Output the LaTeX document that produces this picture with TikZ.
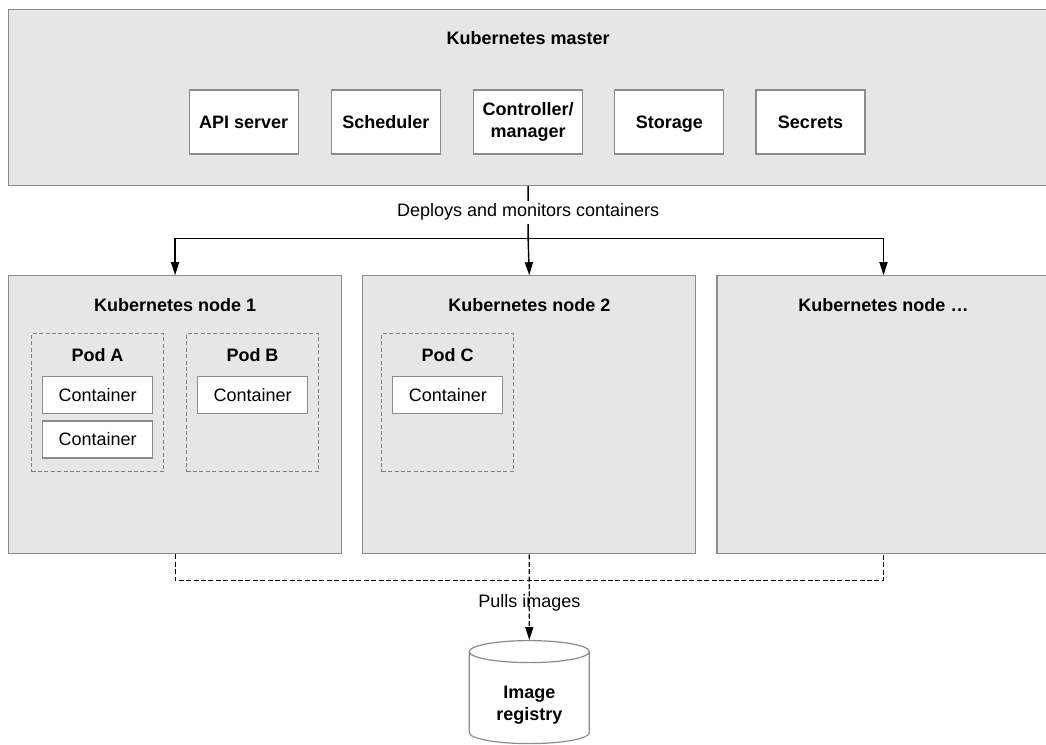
\documentclass[tikz,border=0pt]{standalone}
\usepackage{fontspec}
\setmainfont{Liberation Sans}
\usetikzlibrary{arrows.meta,positioning,shapes.geometric}
\definecolor{KubeFill}{HTML}{E6E6E6}
\definecolor{KubeEdge}{HTML}{8C8C8C}
\definecolor{KubeDash}{HTML}{7F7F7F}
\tikzset{
  masterbox/.style={draw=KubeEdge, fill=KubeFill, line width=0.6pt, inner sep=0pt,
    minimum width=519.5pt, minimum height=88pt},
  cluster/.style={draw=KubeEdge, fill=KubeFill, line width=0.6pt, inner sep=0pt,
    minimum width=166.5pt, minimum height=139pt},
  component/.style={draw=KubeEdge, fill=white, line width=0.6pt, inner sep=1pt,
    align=center, font=\bfseries, minimum width=54.5pt, minimum height=32pt},
  onerow/.style={text height=0.95em, text depth=0.23em},
  pod/.style={draw=KubeDash, line width=0.5pt, dash pattern=on 2pt off 1.2pt,
    inner sep=0pt, minimum width=66pt, minimum height=69pt},
  container/.style={draw=KubeEdge, fill=white, line width=0.6pt, inner sep=0pt,
    minimum width=55pt, minimum height=18.5pt, onerow},
  boxtitle/.style={font=\bfseries, inner sep=0pt},
  store/.style={cylinder, shape border rotate=90, aspect=0.275, text width=40pt,
    draw=KubeEdge, fill=white, line width=0.6pt, inner sep=0pt,
    minimum width=60pt, minimum height=51.5pt},
  feedwire/.style={draw=black, line width=0.7pt, -{Triangle[length=6.5pt, width=4pt]}},
  pullwire/.style={draw=black, line width=0.6pt, dash pattern=on 2.5pt off 1.2pt},
  labelbox/.style={fill=white, inner sep=1.5pt}
}

\begin{document}
\fontsize{9}{11}\selectfont
\begin{tikzpicture}[node distance=10pt and 16pt]
  \useasboundingbox (0,0) rectangle (523pt,-372.5pt);
  % master
  \node[masterbox, anchor=north west] (master) at (4pt,-4.5pt) {};
  \node[boxtitle] (mastertitle) at ([yshift=-14.5pt]master.north) {Kubernetes master};
  \node[component] (ctrl) at ([yshift=-56.5pt]master.north) {Controller/\\manager};
  \node[component, onerow, left=of ctrl] (sched) {Scheduler};
  \node[component, onerow, left=of sched] (api) {API server};
  \node[component, onerow, right=15.5pt of ctrl] (storage) {Storage};
  \node[component, onerow, right=15.5pt of storage] (secrets) {Secrets};

  % worker nodes
  \node[cluster, below right=44.5pt and 0pt of master.south west] (node1) {};
  \node[cluster, right=10pt of node1] (node2) {};
  \node[cluster, right=10pt of node2] (node3) {};
  \node[boxtitle] (node1title) at ([yshift=-14.75pt]node1.north) {Kubernetes node 1};
  \node[boxtitle] (node2title) at ([yshift=-14.75pt]node2.north) {Kubernetes node 2};
  \node[boxtitle] (node3title) at ([yshift=-14.75pt]node3.north) {Kubernetes node …};

  % pods
  \node[pod, below right=29pt and 11.5pt of node1.north west] (podA) {};
  \node[pod, right=11pt of podA] (podB) {};
  \node[pod, below right=29pt and 9.5pt of node2.north west] (podC) {};
  \node[boxtitle] (podAtitle) at ([yshift=-11pt]podA.north) {Pod A};
  \node[boxtitle] (podBtitle) at ([yshift=-11pt]podB.north) {Pod B};
  \node[boxtitle] (podCtitle) at ([yshift=-11pt]podC.north) {Pod C};
  \node[container, below right=21.5pt and 5.5pt of podA.north west] (contA1) {Container};
  \node[container, below=3pt of contA1] (contA2) {Container};
  \node[container, below right=21.5pt and 5.5pt of podB.north west] (contB1) {Container};
  \node[container, below right=21.5pt and 5.5pt of podC.north west] (contC1) {Container};

  % deploy lines
  \coordinate (fanout) at ([yshift=-26pt]master.south);
  \draw[feedwire] (master.south) -- node[labelbox]{Deploys and monitors containers} (fanout) -- (node2.north);
  \draw[feedwire] (fanout) -| (node1.north);
  \draw[feedwire] (fanout) -| (node3.north);

  % image pulls
  \coordinate (pullbus) at ([yshift=-13pt]node2.south);
  \node[store] (registry) at ([yshift=-58.75pt]pullbus) {};
  \node[boxtitle, align=center] (registrytext) at ([yshift=-3.5pt]registry.center) {Image\\registry};
  \draw[pullwire] (node1.south) |- (pullbus) -| (node3.south);
  \draw[pullwire, -{Triangle[length=6.5pt, width=4pt]}] (node2.south) -- node[pos=0.57]{Pulls images} (registry.north);
\end{tikzpicture}
\end{document}
